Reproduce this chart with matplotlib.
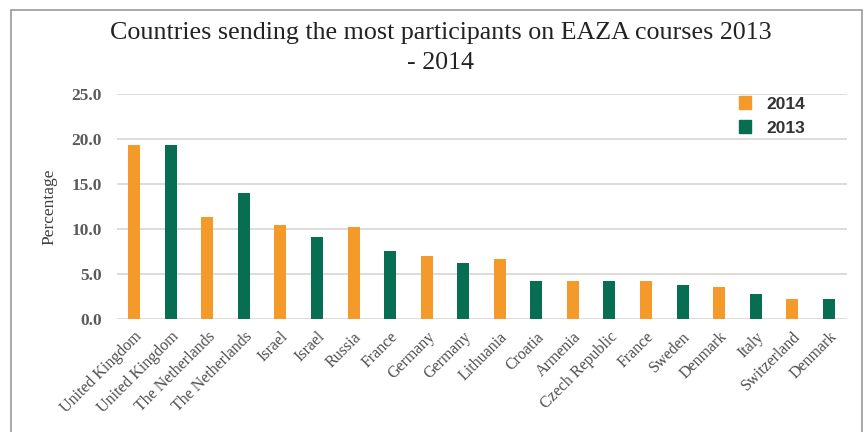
"""Bar chart of countries sending the most participants on EAZA courses 2013 - 2014."""

import matplotlib.pyplot as plt
from matplotlib.patches import Patch, Rectangle

countries = ['United Kingdom', 'United Kingdom', 'The Netherlands', 'The Netherlands',
             'Israel', 'Israel', 'Russia', 'France', 'Germany', 'Germany',
             'Lithuania', 'Croatia', 'Armenia', 'Czech Republic', 'France',
             'Sweden', 'Denmark', 'Italy', 'Switzerland', 'Denmark']
years = ['2014', '2013', '2014', '2013', '2014', '2013', '2014', '2013', '2014', '2013',
         '2014', '2013', '2014', '2013', '2014', '2013', '2014', '2013', '2014', '2013']
percentages = [19.3, 19.3, 11.4, 14.0, 10.5, 9.1, 10.2, 7.6, 7.0, 6.2,
               6.7, 4.2, 4.2, 4.2, 4.2, 3.8, 3.6, 2.8, 2.2, 2.3]
y_ticks = [0, 5, 10, 15, 20, 25]

year_colors = {'2014': '#F39A2B', '2013': '#086E52'}
serif = 'Liberation Serif'

fig = plt.figure(figsize=(8.67, 4.32), dpi=100)
ax = fig.add_axes([0.135, 0.261, 0.842, 0.521])

# Grey frame round the whole chart
fig.patches.append(Rectangle((11 / 867, -0.05), (862 - 11) / 867, 1.05 - 10 / 432,
                             transform=fig.transFigure, fill=False,
                             edgecolor='#9a9a9a', linewidth=1.2))

x = range(len(countries))
ax.bar(x, percentages, width=0.33, color=[year_colors[y] for y in years], zorder=3)

ax.set_xlim(-0.47, 19.5)
ax.set_ylim(0, 25)
ax.set_yticks(y_ticks)
ax.set_yticklabels([f"{t:.1f}" for t in y_ticks], fontfamily=serif,
                   fontsize=12.5, fontweight='bold', color='#5a5a5a')
ax.set_xticks(list(x))
ax.set_xticklabels(countries, rotation=45, ha='right', rotation_mode='anchor',
                   fontfamily=serif, fontsize=11.5, color='#4f4f4f')
ax.tick_params(length=0, axis='y', pad=11)
ax.tick_params(length=0, axis='x', pad=7)
ax.grid(axis='y', color='#dcd8d4', linewidth=1.3, zorder=0)
for side in ['top', 'right', 'left', 'bottom']:
    ax.spines[side].set_visible(False)

ax.set_ylabel('Percentage', fontfamily=serif, fontsize=12.5, color='#404040', labelpad=10)

handles = [Patch(color=year_colors['2014'], label='2014'),
           Patch(color=year_colors['2013'], label='2013')]
ax.legend(handles=handles, loc='upper left', bbox_to_anchor=(0.83, 1.06),
          frameon=False, handlelength=0.7, handleheight=0.75, handletextpad=0.9,
          labelspacing=0.5, prop={'family': 'Liberation Sans', 'size': 12.5, 'weight': 'bold'},
          labelcolor='#333333')

fig.text(0.508, 0.889, 'Countries sending the most participants on EAZA courses 2013\n- 2014',
         ha='center', va='center', fontfamily=serif, fontsize=18.7, color='#222222',
         linespacing=1.45)

fig.savefig('out.png', dpi=100)
